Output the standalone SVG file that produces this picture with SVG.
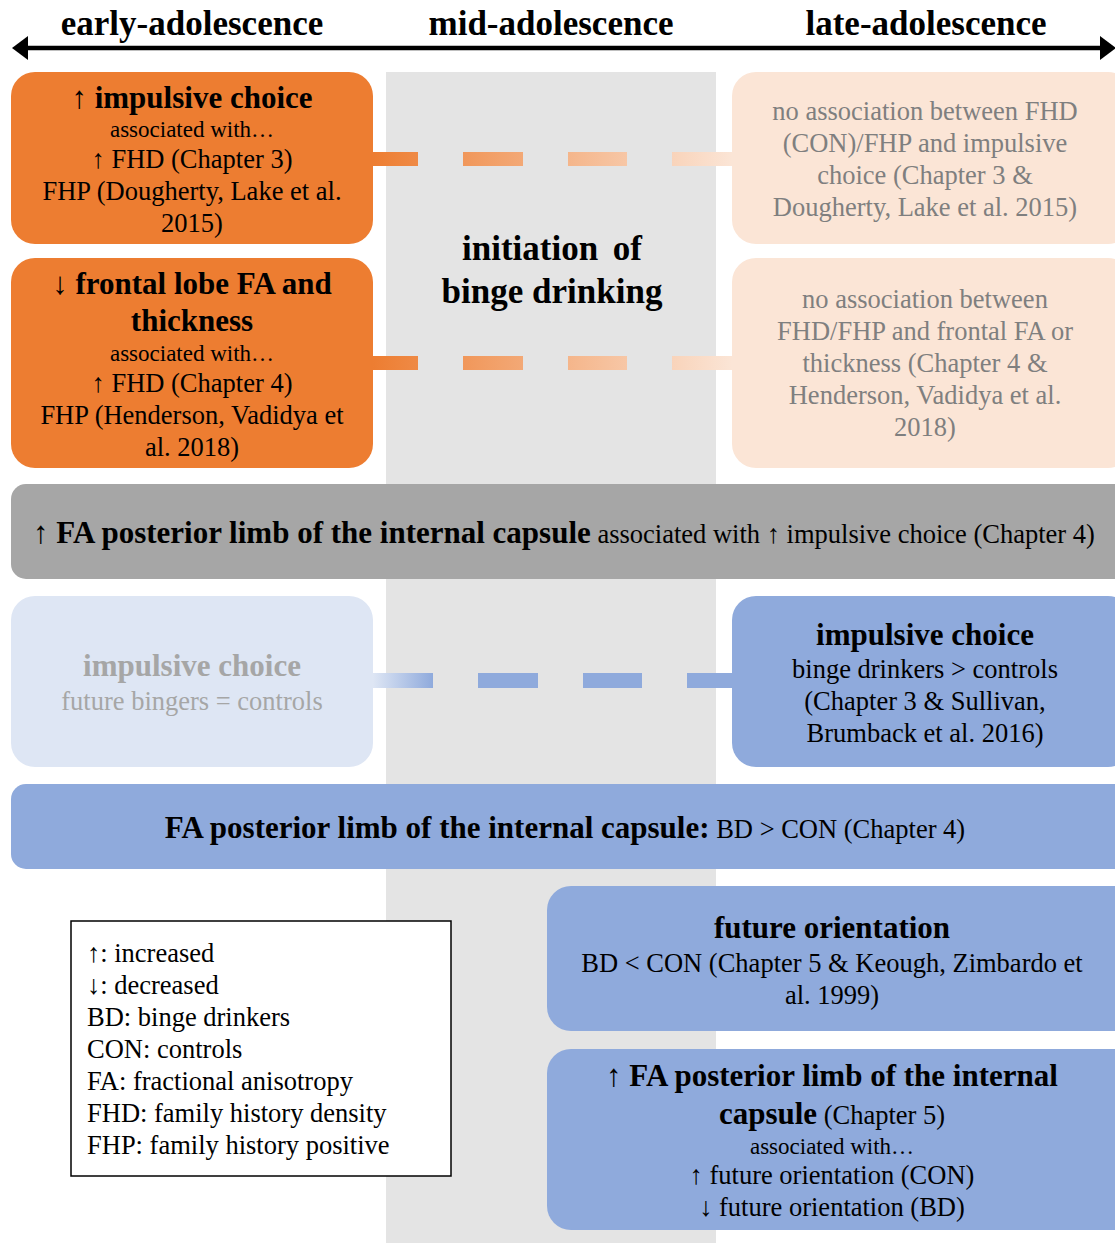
<svg xmlns="http://www.w3.org/2000/svg" width="1115" height="1243" viewBox="0 0 1115 1243">
<style>
text{font-family:"Liberation Serif","Times New Roman",serif;text-anchor:middle;fill:#000}
.h{font-size:35px;font-weight:bold}
.b{font-weight:bold}
.t{font-size:26.5px}
.tb{font-size:31px;font-weight:bold}
.s{font-size:23px}
.g{fill:#7F7F7F}
.lg{fill:#A6A6A6}
.lgd text{text-anchor:start;font-size:26.5px}
</style>
<defs>
<linearGradient id="og" gradientUnits="userSpaceOnUse" x1="373" y1="0" x2="732" y2="0">
<stop offset="0" stop-color="#ED7D31"/>
<stop offset="1" stop-color="#FBE5D6"/>
</linearGradient>
<linearGradient id="bg" gradientUnits="userSpaceOnUse" x1="373" y1="0" x2="433" y2="0">
<stop offset="0" stop-color="#DEE6F4"/>
<stop offset="1" stop-color="#8FAADC"/>
</linearGradient>
</defs>
<rect width="1115" height="1243" fill="#fff"/>
<rect id="mid-column" x="386" y="72" width="330" height="1171" fill="#E4E4E4"/>

<g id="header">
<text class="h" x="192" y="35">early-adolescence</text>
<text class="h" x="551" y="35">mid-adolescence</text>
<text class="h" x="926" y="35">late-adolescence</text>
</g>

<g id="connectors">
<line x1="24" y1="48" x2="1103" y2="48" stroke="#000" stroke-width="4.5"/>
<polygon points="12,48 28,36 28,60" fill="#000"/>
<polygon points="1116,48 1100,36 1100,60" fill="#000"/>
<g fill="url(#og)">
<rect x="373" y="152" width="45" height="14"/>
<rect x="463" y="152" width="60" height="14"/>
<rect x="568" y="152" width="59" height="14"/>
<rect x="672" y="152" width="60" height="14"/>
<rect x="373" y="356" width="45" height="14"/>
<rect x="463" y="356" width="60" height="14"/>
<rect x="568" y="356" width="59" height="14"/>
<rect x="672" y="356" width="60" height="14"/>
</g>
<g fill="#8FAADC">
<rect x="373" y="673" width="60" height="15" fill="url(#bg)"/>
<rect x="478" y="673" width="60" height="15"/>
<rect x="583" y="673" width="59" height="15"/>
<rect x="687" y="673" width="45" height="15"/>
</g>
</g>

<g id="mid-label">
<text class="h" x="552" y="260" word-spacing="6">initiation of</text>
<text class="h" x="552" y="303">binge drinking</text>
</g>

<g id="early-impulsive">
<rect x="11" y="72" width="362" height="172" rx="24" fill="#ED7D31"/>
<text class="tb" x="192" y="108">↑ impulsive choice</text>
<text class="s" x="192" y="137">associated with…</text>
<text class="t" x="192" y="168">↑ FHD (Chapter 3)</text>
<text class="t" x="192" y="200">FHP (Dougherty, Lake et al.</text>
<text class="t" x="192" y="232">2015)</text>
</g>

<g id="early-frontal">
<rect x="11" y="258" width="362" height="210" rx="24" fill="#ED7D31"/>
<text class="tb" x="192" y="294">↓ frontal lobe FA and</text>
<text class="tb" x="192" y="331">thickness</text>
<text class="s" x="192" y="361">associated with…</text>
<text class="t" x="192" y="392">↑ FHD (Chapter 4)</text>
<text class="t" x="192" y="424">FHP (Henderson, Vadidya et</text>
<text class="t" x="192" y="456">al. 2018)</text>
</g>

<g id="late-noassoc-impulsive">
<rect x="732" y="72" width="400" height="172" rx="24" fill="#FBE5D6"/>
<text class="t g" x="925" y="120">no association between FHD</text>
<text class="t g" x="925" y="152">(CON)/FHP and impulsive</text>
<text class="t g" x="925" y="184">choice (Chapter 3 &amp;</text>
<text class="t g" x="925" y="216">Dougherty, Lake et al. 2015)</text>
</g>

<g id="late-noassoc-frontal">
<rect x="732" y="258" width="400" height="210" rx="24" fill="#FBE5D6"/>
<text class="t g" x="925" y="308">no association between</text>
<text class="t g" x="925" y="340">FHD/FHP and frontal FA or</text>
<text class="t g" x="925" y="372">thickness (Chapter 4 &amp;</text>
<text class="t g" x="925" y="404">Henderson, Vadidya et al.</text>
<text class="t g" x="925" y="436">2018)</text>
</g>

<g id="fa-impulsive-band">
<rect x="11" y="484" width="1120" height="95" rx="15" fill="#A6A6A6"/>
<text class="t" x="564" y="543"><tspan class="b" font-size="31">↑ FA posterior limb of the internal capsule</tspan> associated with ↑ impulsive choice (Chapter 4)</text>
</g>

<g id="future-bingers">
<rect x="11" y="596" width="362" height="171" rx="24" fill="#DEE6F4"/>
<text class="tb lg" x="192" y="676">impulsive choice</text>
<text class="t lg" x="192" y="710">future bingers = controls</text>
</g>

<g id="late-impulsive">
<rect x="732" y="596" width="400" height="171" rx="24" fill="#8FAADC"/>
<text class="tb" x="925" y="645">impulsive choice</text>
<text class="t" x="925" y="678">binge drinkers &gt; controls</text>
<text class="t" x="925" y="710">(Chapter 3 &amp; Sullivan,</text>
<text class="t" x="925" y="742">Brumback et al. 2016)</text>
</g>

<g id="fa-bd-band">
<rect x="11" y="784" width="1120" height="85" rx="15" fill="#8FAADC"/>
<text class="t" x="565" y="838"><tspan class="b" font-size="31">FA posterior limb of the internal capsule:</tspan> BD &gt; CON (Chapter 4)</text>
</g>

<g id="future-orientation">
<rect x="547" y="886" width="590" height="145" rx="24" fill="#8FAADC"/>
<text class="tb" x="832" y="938">future orientation</text>
<text class="t" x="832" y="972">BD &lt; CON (Chapter 5 &amp; Keough, Zimbardo et</text>
<text class="t" x="832" y="1004">al. 1999)</text>
</g>

<g id="fa-future">
<rect x="547" y="1049" width="590" height="181" rx="24" fill="#8FAADC"/>
<text class="tb" x="832" y="1086">↑ FA posterior limb of the internal</text>
<text class="t" x="832" y="1124"><tspan class="b" font-size="31">capsule</tspan> (Chapter 5)</text>
<text class="s" x="832" y="1154">associated with…</text>
<text class="t" x="832" y="1184">↑ future orientation (CON)</text>
<text class="t" x="832" y="1216">↓ future orientation (BD)</text>
</g>

<g id="legend" class="lgd">
<rect x="71" y="921" width="380" height="255" fill="#fff" stroke="#000" stroke-width="1.5"/>
<text x="87" y="962">↑: increased</text>
<text x="87" y="994">↓: decreased</text>
<text x="87" y="1026">BD: binge drinkers</text>
<text x="87" y="1058">CON: controls</text>
<text x="87" y="1090">FA: fractional anisotropy</text>
<text x="87" y="1122">FHD: family history density</text>
<text x="87" y="1154">FHP: family history positive</text>
</g>
</svg>
